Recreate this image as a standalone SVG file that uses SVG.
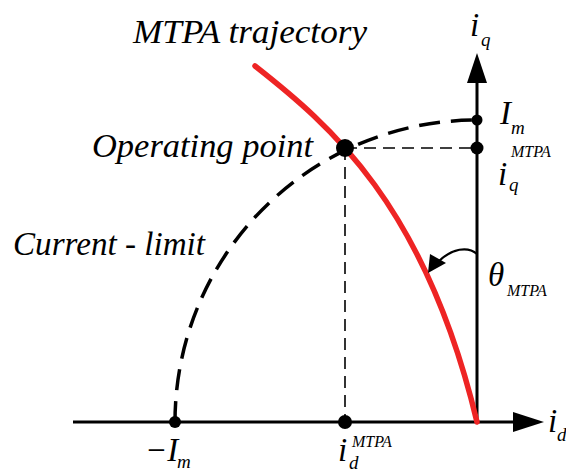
<svg xmlns="http://www.w3.org/2000/svg" width="566" height="472" viewBox="0 0 566 472">
<style>
text{font-family:'Liberation Serif','Times New Roman',serif;font-style:italic;fill:#000}
.lbl{font-size:33px}
.sub{font-size:19px}
.sup{font-size:16px}
.axis{stroke:#000;stroke-width:3;fill:none}
.thin{stroke:#000;stroke-width:1.6;stroke-dasharray:12 7;fill:none}
.arc{stroke:#000;stroke-width:3.5;stroke-dasharray:21 11;fill:none}
.red{stroke:#ee2424;stroke-width:5.5;fill:none;stroke-linecap:round}
.dot{fill:#000}
</style>
<rect width="566" height="472" fill="#fff"/>
<g id="connectors">
  <line class="axis" x1="73" y1="422" x2="515" y2="422"/>
  <polygon points="544,422 513,412 513,432" fill="#000"/>
  <line class="axis" x1="477" y1="424" x2="477" y2="81"/>
  <polygon points="477,53 467,83 487,83" fill="#000"/>
  <path class="arc" d="M 175 422 A 302 302 0 0 1 477 120"/>
  <line class="thin" x1="345" y1="148" x2="477" y2="148"/>
  <line class="thin" x1="345" y1="148" x2="345" y2="422"/>
  <path class="red" d="M 255 66 C 330 125 425 205 477 422"/>
  <path d="M 477 254 C 468 246 452 248 438 262" stroke="#000" stroke-width="2.2" fill="none"/>
  <polygon points="428,273 430,254 446,263" fill="#000"/>
</g>
<g id="operating-point"><circle class="dot" cx="345" cy="148" r="9"/></g>
<g id="neg-im"><circle class="dot" cx="175" cy="422" r="6"/></g>
<g id="id-mtpa"><circle class="dot" cx="345" cy="422" r="7"/></g>
<g id="im"><circle class="dot" cx="477" cy="120" r="5.5"/></g>
<g id="iq-mtpa"><circle class="dot" cx="477" cy="148" r="6.5"/></g>
<g id="labels" font-family="Liberation Serif" font-style="italic">
  <text class="lbl" x="133" y="43" textLength="234" lengthAdjust="spacingAndGlyphs">MTPA trajectory</text>
  <text class="lbl" x="92" y="157" textLength="221" lengthAdjust="spacingAndGlyphs">Operating point</text>
  <text class="lbl" x="13" y="255" textLength="192" lengthAdjust="spacingAndGlyphs">Current - limit</text>
  <text class="lbl" x="470" y="36">i</text><text class="sub" x="481" y="46">q</text>
  <text class="lbl" x="500" y="124">I</text><text class="sub" x="511" y="134">m</text>
  <text class="lbl" x="498" y="185">i</text><text class="sup" x="511" y="157">MTPA</text><text class="sub" x="509" y="191">q</text>
  <text class="lbl" x="548" y="432">i</text><text class="sub" x="557" y="441">d</text>
  <text class="lbl" x="145" y="461">−I</text><text class="sub" x="177" y="468">m</text>
  <text class="lbl" x="338" y="461">i</text><text class="sup" x="352" y="447">MTPA</text><text class="sub" x="349" y="469">d</text>
  <text class="lbl" x="488" y="286">θ</text><text class="sup" x="507" y="296">MTPA</text>
</g>
</svg>
